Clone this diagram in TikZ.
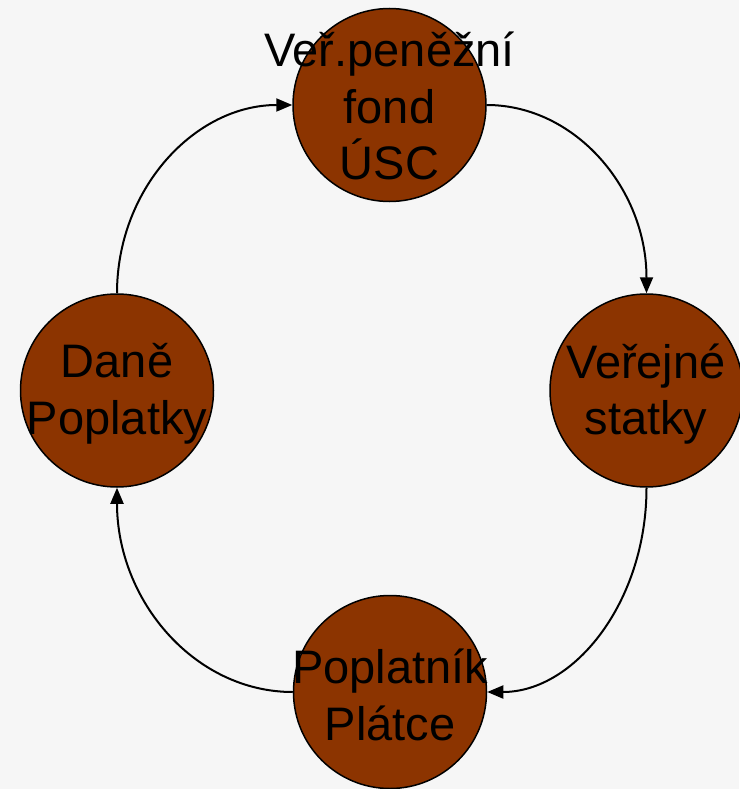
\documentclass[tikz,border=0pt]{standalone}
\usepackage{fontspec}
\setmainfont{Liberation Sans}
\usetikzlibrary{arrows.meta}
\definecolor{bgc}{RGB}{246,246,246}
\definecolor{brownc}{RGB}{140,52,0}
\tikzset{
  ball/.style={circle, draw=black, line width=1.5pt, fill=brownc, minimum size=193pt, inner sep=0pt},
  txt/.style={align=center, inner sep=0pt, font=\fontsize{47}{56.5}\selectfont},
  arr/.style={line width=2pt, -{Triangle[length=16pt,width=13pt]}}
}
\begin{document}
\begin{tikzpicture}[x=1pt,y=-1pt]
\fill[bgc] (0,0) rectangle (739,789);
\useasboundingbox (0,0) rectangle (739,789);
\node[ball] (top) at (389.5,105) {};
\node[ball] (right) at (646.5,390.5) {};
\node[ball] (bottom) at (390,692) {};
\node[ball] (left) at (117,390.5) {};
\node[txt] (ttop) at (389.5,106) {Veř.peněžní\\fond\\ÚSC};
\node[txt] (tright) at (646,394) {Veřejné\\statky};
\node[txt] (tbottom) at (390,695) {Poplatník\\Plátce};
\node[txt] (tleft) at (117,394) {Daně\\Poplatky};
\draw[arr] (top.east) .. controls +(88,0) and +(0,-105) .. (right.north);
\draw[arr] (right.south) .. controls +(0,113) and +(88,0) .. (bottom.east);
\draw[arr] (bottom.west) .. controls +(-98,0) and +(0,113) .. (left.south);
\draw[arr] (left.north) .. controls +(0,-105) and +(-97,0) .. (top.west);
\end{tikzpicture}
\end{document}
